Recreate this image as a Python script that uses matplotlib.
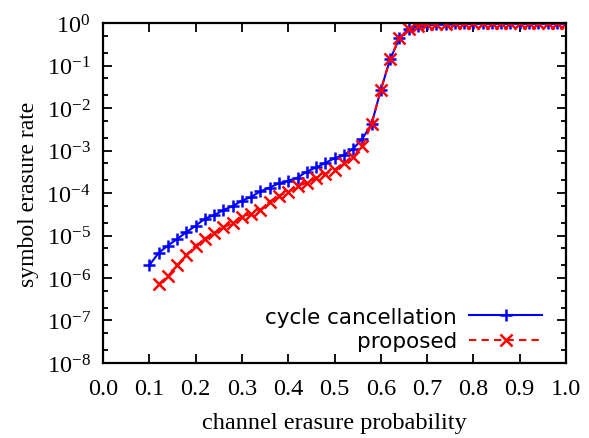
import matplotlib
matplotlib.use('Agg')
import matplotlib.pyplot as plt
from matplotlib.ticker import LogLocator, FixedLocator, NullFormatter

# channel erasure probability grid
x_cycle = [0.10, 0.12, 0.14, 0.16, 0.18, 0.20, 0.22, 0.24, 0.26, 0.28,
           0.30, 0.32, 0.34, 0.36, 0.38, 0.40, 0.42, 0.44, 0.46, 0.48,
           0.50, 0.52, 0.54, 0.56, 0.58, 0.60, 0.62, 0.64, 0.66, 0.68,
           0.70, 0.72, 0.74, 0.76, 0.78, 0.80, 0.82, 0.84, 0.86, 0.88,
           0.90, 0.92, 0.94, 0.96, 0.98, 1.00]
ser_cycle = [2.0e-6, 3.9e-6, 5.8e-6, 8.3e-6, 1.2e-5, 1.7e-5, 2.5e-5, 3.0e-5, 4.0e-5, 4.9e-5,
             6.6e-5, 8.1e-5, 1.1e-4, 1.35e-4, 1.7e-4, 1.95e-4, 2.3e-4, 3.2e-4, 4.0e-4, 5.1e-4,
             6.6e-4, 7.8e-4, 1.1e-3, 1.9e-3, 4.2e-3, 2.7e-2, 0.14, 0.44, 0.74, 0.87,
             0.93, 0.965, 0.98, 0.99, 0.995, 0.997, 0.998, 0.999, 0.999, 1.0,
             1.0, 1.0, 1.0, 1.0, 1.0, 1.0]

x_prop = x_cycle[1:]
ser_prop = [7.2e-7, 1.1e-6, 2.0e-6, 3.5e-6, 5.8e-6, 8.5e-6, 1.15e-5, 1.55e-5, 2.0e-5,
            2.8e-5, 3.2e-5, 4.0e-5, 6.3e-5, 8.7e-5, 1.07e-4, 1.45e-4, 1.75e-4, 2.3e-4, 2.8e-4,
            3.5e-4, 5.2e-4, 6.9e-4, 1.3e-3, 4.2e-3, 2.7e-2, 0.14, 0.44, 0.74, 0.87,
            0.93, 0.965, 0.98, 0.99, 0.995, 0.997, 0.998, 0.999, 0.999, 1.0,
            1.0, 1.0, 1.0, 1.0, 1.0, 1.0]

x_ticks = [0.0, 0.1, 0.2, 0.3, 0.4, 0.5, 0.6, 0.7, 0.8, 0.9, 1.0]
y_exps = [0, -1, -2, -3, -4, -5, -6, -7, -8]

plt.rcParams['font.family'] = ['Liberation Serif', 'DejaVu Serif']
plt.rcParams['mathtext.fontset'] = 'custom'
plt.rcParams['mathtext.rm'] = 'Liberation Serif'
plt.rcParams['mathtext.it'] = 'Liberation Serif:italic'

fig = plt.figure(figsize=(5.89, 4.39), dpi=100)
ax = fig.add_axes([0.175, 0.171, 0.786, 0.774])

ax.plot(x_cycle, ser_cycle, color='#0000ff', lw=1.5, marker='+', ms=9, mew=1.8,
        label='cycle cancellation')
ax.plot(x_prop, ser_prop, color='#ff0000', lw=1.5, ls=(0, (3.5, 2.5)), marker='x',
        ms=8, mew=1.8, label='proposed')

ax.set_yscale('log')
ax.set_xlim(0.0, 1.0)
ax.set_ylim(1e-8, 1.0)

ax.xaxis.set_major_locator(FixedLocator(x_ticks))
ax.set_xticklabels(['%.1f' % t for t in x_ticks], fontsize=17.5)
ax.yaxis.set_major_locator(FixedLocator([10.0 ** e for e in y_exps]))
ax.set_yticklabels([r'$\mathregular{10^{%d}}$' % e for e in y_exps], fontsize=17.5)
ax.yaxis.set_minor_locator(LogLocator(base=10, subs=(2.0, 5.0), numticks=20))
ax.yaxis.set_minor_formatter(NullFormatter())

ax.tick_params(which='both', direction='in', top=True, right=True, width=1.3)
ax.tick_params(which='major', length=6.5)
ax.tick_params(which='minor', length=3.5)
ax.tick_params(axis='x', which='major', pad=11)
ax.tick_params(axis='y', which='major', pad=9)
for s in ax.spines.values():
    s.set_linewidth(1.6)

ax.set_xlabel('channel erasure probability', fontsize=17.5, labelpad=9)
ax.set_ylabel('symbol erasure rate', fontsize=17, labelpad=5)

ax.legend(loc='lower right', bbox_to_anchor=(0.974, 0.0), markerfirst=False,
          frameon=False, handlelength=3.4, handletextpad=0.55, labelspacing=0.2,
          borderaxespad=0.15, prop={'family': 'DejaVu Sans', 'size': 15.5})

fig.savefig('out.png', dpi=100)
